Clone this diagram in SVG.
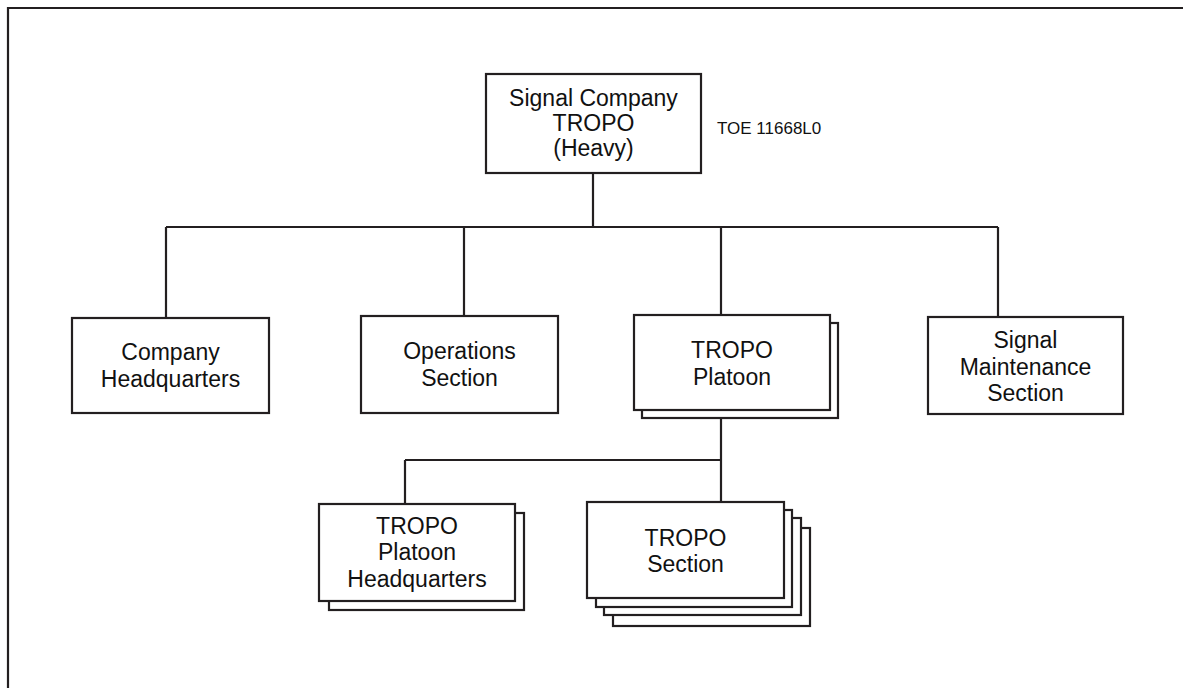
<svg xmlns="http://www.w3.org/2000/svg" width="1183" height="688" viewBox="0 0 1183 688">
<style>
.box{fill:#fff;stroke:#231f20;stroke-width:2.2}
.ln{fill:none;stroke:#231f20;stroke-width:2.2}
.t{font-family:"Liberation Sans",Arial,sans-serif;font-size:23px;fill:#111;text-anchor:middle}
.s{font-family:"Liberation Sans",Arial,sans-serif;font-size:17px;fill:#111}
</style>
<rect width="1183" height="688" fill="#fff"/>
<g id="frame"><path class="ln" d="M8,688 V8 H1183" stroke-width="2.6"/></g>
<g id="connectors">
<path class="ln" d="M593,173 V227 M166,227 H998 M166,227 V318 M464,227 V316 M721,227 V315 M998,227 V317"/>
<path class="ln" d="M721,418 V502 M405,460 H721 M405,460 V504"/>
</g>
<g id="signal-company">
<rect class="box" x="486" y="74" width="215" height="99"/>
<text class="t" x="593.5" y="106">Signal Company</text>
<text class="t" x="593.5" y="131">TROPO</text>
<text class="t" x="593.5" y="156">(Heavy)</text>
</g>
<g id="toe-label"><text class="s" x="717" y="134">TOE 11668L0</text></g>
<g id="company-hq">
<rect class="box" x="72" y="318" width="197" height="95"/>
<text class="t" x="170.5" y="360">Company</text>
<text class="t" x="170.5" y="387">Headquarters</text>
</g>
<g id="operations">
<rect class="box" x="361" y="316" width="197" height="97"/>
<text class="t" x="459.5" y="359">Operations</text>
<text class="t" x="459.5" y="386">Section</text>
</g>
<g id="tropo-platoon">
<rect class="box" x="642" y="323" width="196" height="95"/>
<rect class="box" x="634" y="315" width="196" height="95"/>
<text class="t" x="732" y="358">TROPO</text>
<text class="t" x="732" y="385">Platoon</text>
</g>
<g id="signal-maintenance">
<rect class="box" x="928" y="317" width="195" height="97"/>
<text class="t" x="1025.5" y="348">Signal</text>
<text class="t" x="1025.5" y="375">Maintenance</text>
<text class="t" x="1025.5" y="401">Section</text>
</g>
<g id="platoon-hq">
<rect class="box" x="329" y="513" width="195" height="97"/>
<rect class="box" x="319" y="504" width="196" height="97"/>
<text class="t" x="417" y="534">TROPO</text>
<text class="t" x="417" y="560">Platoon</text>
<text class="t" x="417" y="587">Headquarters</text>
</g>
<g id="tropo-section">
<rect class="box" x="613" y="528" width="197" height="98"/>
<rect class="box" x="604" y="518" width="197" height="97"/>
<rect class="box" x="596" y="510" width="196" height="97"/>
<rect class="box" x="587" y="502" width="197" height="96"/>
<text class="t" x="685.5" y="546">TROPO</text>
<text class="t" x="685.5" y="572">Section</text>
</g>
</svg>
